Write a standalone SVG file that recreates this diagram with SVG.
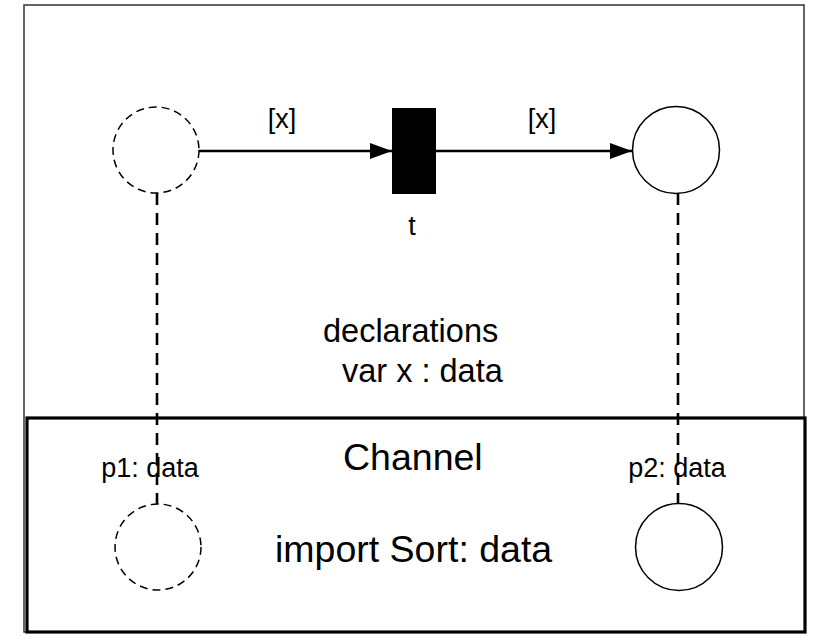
<svg xmlns="http://www.w3.org/2000/svg" width="818" height="640" viewBox="0 0 818 640">
<defs>
<marker id="ah" viewBox="0 0 22 16" refX="22" refY="8" markerWidth="22" markerHeight="16" markerUnits="userSpaceOnUse" orient="auto">
<path d="M0,0 L22,8 L0,16 Z" fill="#000"/>
</marker>
<style>
text{font-family:"Liberation Sans",Arial,sans-serif;fill:#000}
.sm{font-size:27px}
.dec{font-size:32.5px}
.big{font-size:37.5px}
.place{fill:#fff;stroke:#000;stroke-width:1.5}
.dashed{stroke-dasharray:8,5}
.arc{stroke:#000;stroke-width:2.6;fill:none}
.link{stroke:#000;stroke-width:2.6;fill:none;stroke-dasharray:12,8}
</style>
</defs>
<rect width="818" height="640" fill="#fff"/>
<g id="net">
<rect x="24" y="5" width="780" height="627" fill="none" stroke="#333" stroke-width="1.5"/>
<text class="dec" x="323" y="342">declarations</text>
<text class="dec" x="342" y="382">var x : data</text>
</g>
<g id="channel">
<rect x="27" y="418" width="778" height="214" fill="#fff" stroke="#000" stroke-width="3.2"/>
<text class="big" x="343" y="470">Channel</text>
<text class="big" x="275" y="562">import Sort: data</text>
</g>
<g id="connectors">
<line class="arc" x1="199" y1="151" x2="392" y2="151" marker-end="url(#ah)"/>
<line class="arc" x1="436" y1="151" x2="632" y2="151" marker-end="url(#ah)"/>
<line class="link" x1="157" y1="193" x2="157" y2="504"/>
<line class="link" x1="678" y1="193" x2="678" y2="504"/>
</g>
<g id="p1top">
<circle class="place dashed" cx="156" cy="150" r="43" fill="none"/>
</g>
<g id="t">
<rect x="392" y="108" width="44" height="86" fill="#000"/>
<text class="sm" x="412" y="235" text-anchor="middle">t</text>
</g>
<g id="p2top">
<circle class="place" cx="676" cy="150" r="43.5" fill="none"/>
</g>
<g id="labels">
<text class="sm" x="282" y="128" text-anchor="middle">[x]</text>
<text class="sm" x="542" y="128" text-anchor="middle">[x]</text>
</g>
<g id="p1">
<text class="sm" x="150" y="477" text-anchor="middle">p1: data</text>
<circle class="place dashed" cx="158" cy="547" r="43" style="fill:none"/>
</g>
<g id="p2">
<text class="sm" x="677" y="477" text-anchor="middle">p2: data</text>
<circle class="place" cx="679" cy="547" r="43.5" style="fill:none"/>
</g>
</svg>
